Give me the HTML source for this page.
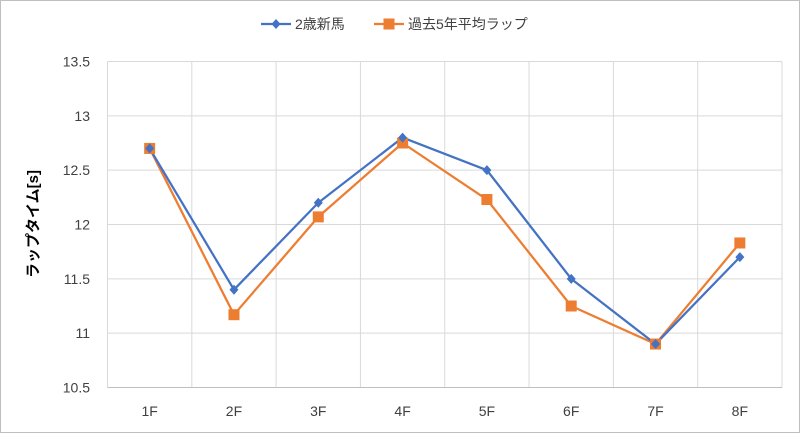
<!DOCTYPE html>
<html><head><meta charset="utf-8">
<style>
html,body{margin:0;padding:0;background:#fff;}
body{width:800px;height:433px;overflow:hidden;font-family:"Liberation Sans","Noto Sans CJK JP",sans-serif;}
</style></head>
<body>
<svg id="chart" width="800" height="433" viewBox="0 0 800 433" xmlns="http://www.w3.org/2000/svg">
<rect x="0.5" y="0.5" width="799" height="432" fill="#fff" stroke="#bfbfbf"/>
<g id="grid"></g>
<g id="axes"></g>
<g id="series"></g>
<text x="38" y="224" transform="rotate(-90 38 224)" text-anchor="middle" font-size="15" font-weight="bold" fill="#000" font-family="Liberation Sans, Noto Sans CJK JP, sans-serif">ラップタイム[s]</text>
<g>
 <g>
  <line x1="261" y1="24" x2="291" y2="24" stroke="#4472c4" stroke-width="2.25"/>
  <path d="M276 19 L280.5 24 L276 29 L271.5 24 Z" fill="#4472c4"/>
  <text x="295" y="29" font-size="14" fill="#404040">2歳新馬</text>
 </g>
 <g>
  <line x1="374" y1="24" x2="404" y2="24" stroke="#ed7d31" stroke-width="2.25"/>
  <rect x="383.5" y="18.5" width="11" height="11" fill="#ed7d31"/>
  <text x="408" y="29" font-size="14" fill="#404040">過去5年平均ラップ</text>
 </g>
</g>
</svg>
<script>
const categories = ["1F","2F","3F","4F","5F","6F","7F","8F"];
const seriesDebut = [12.7, 11.4, 12.2, 12.8, 12.5, 11.5, 10.9, 11.7];
const seriesAverage = [12.7, 11.17, 12.07, 12.75, 12.23, 11.25, 10.9, 11.83];
const yTicks = [10.5, 11, 11.5, 12, 12.5, 13, 13.5];
const yTickLabels = ["10.5","11","11.5","12","12.5","13","13.5"];

const NS = "http://www.w3.org/2000/svg";
const plotLeft = 107.5, plotRight = 782, plotTop = 61.5, plotBottom = 387.5;
const yMin = 10.5, yMax = 13.5;
const band = (plotRight - plotLeft) / categories.length;
function xPos(i){ return plotLeft + band * (i + 0.5); }
function yPos(v){ return plotBottom - (v - yMin) / (yMax - yMin) * (plotBottom - plotTop); }
function mk(tag, attrs, parent){ const e = document.createElementNS(NS, tag); for (const k in attrs) e.setAttribute(k, attrs[k]); parent.appendChild(e); return e; }

const grid = document.getElementById("grid");
const axes = document.getElementById("axes");
const ser = document.getElementById("series");

yTicks.forEach((t, i) => {
  const y = yPos(t);
  const gl = mk("line", {x1:plotLeft, x2:plotRight, y1:y, y2:y, stroke:"#d9d9d9", "stroke-width":1}, grid);
  
  
  const lb = mk("text", {x:90, y:y+5, "text-anchor":"end", "font-size":"14", fill:"#404040"}, axes);
  lb.textContent = yTickLabels[i];
  
  
});
for (let i = 0; i <= categories.length; i++) {
  const x = plotLeft + band * i;
  const vl = mk("line", {x1:x, x2:x, y1:plotTop, y2:plotBottom, stroke:"#d9d9d9", "stroke-width":1}, grid);
  
  
}
const xa = mk("line", {x1:plotLeft, x2:plotRight, y1:plotBottom, y2:plotBottom, stroke:"#bfbfbf", "stroke-width":1}, axes);


categories.forEach((c, i) => {
  const t = mk("text", {x:xPos(i), y:416, "text-anchor":"middle", "font-size":"14", fill:"#404040"}, axes);
  t.textContent = c;
  
  
});

function drawLine(vals, color, name){
  const pts = vals.map((v, i) => xPos(i) + "," + yPos(v)).join(" ");
  const pl = mk("polyline", {points:pts, fill:"none", stroke:color, "stroke-width":2.25, "stroke-linejoin":"round"}, ser);
  
  
}
drawLine(seriesAverage, "#ed7d31", "average");
drawLine(seriesDebut, "#4472c4", "debut");
seriesAverage.forEach((v, i) => {
  const x = xPos(i), y = yPos(v);
  const r = mk("rect", {x:x-5.5, y:y-5.5, width:11, height:11, fill:"#ed7d31"}, ser);
  
  
});
seriesDebut.forEach((v, i) => {
  const x = xPos(i), y = yPos(v);
  const p = mk("path", {d:`M${x} ${y-5} L${x+4.5} ${y} L${x} ${y+5} L${x-4.5} ${y} Z`, fill:"#4472c4"}, ser);
  
  
});
</script>
</body></html>
